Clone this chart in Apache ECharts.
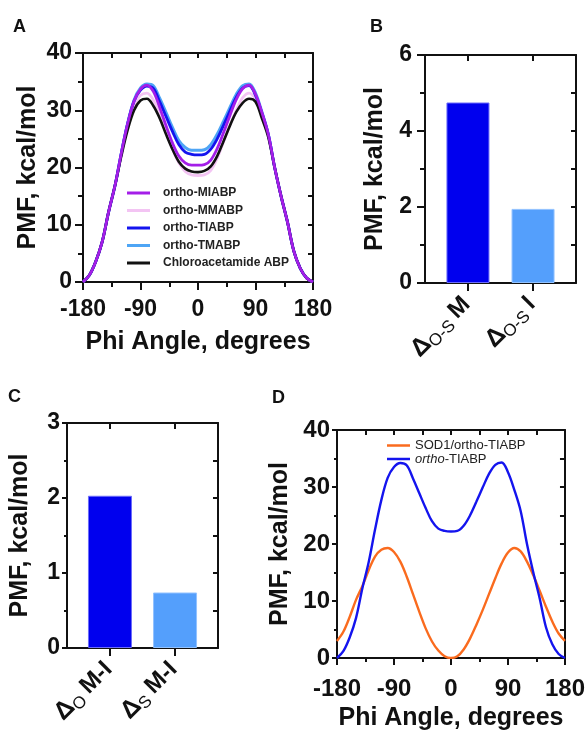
<!DOCTYPE html>
<html>
<head>
<meta charset="utf-8">
<script src="https://cdn.jsdelivr.net/npm/echarts@6/dist/echarts.min.js"></script>
<style>
  html, body { margin: 0; padding: 0; background: #ffffff; }
  #chart { width: 588px; height: 735px; }
</style>
</head>
<body>
<div id="chart"></div>
<script>
// Dihedral scan angle (degrees)
const phi = [-180, -170, -160, -150, -140, -130, -120, -110, -100, -90, -80, -70, -60, -50, -40, -30, -20, -10,
  0, 10, 20, 30, 40, 50, 60, 70, 80, 90, 100, 110, 120, 130, 140, 150, 160, 170, 180];

// PMF profiles, kcal/mol
const pmfMIABP = [0, 1.2, 3.6, 7.0, 12.2, 16.8, 22.5, 27.7, 31.6, 33.7, 34.4, 33.3, 30.5, 27.3, 24.3, 22.0, 20.8, 20.4,
  20.4, 20.5, 21.3, 23.3, 26.1, 29.1, 31.9, 33.8, 34.4, 32.8, 29.6, 25.8, 20.0, 15.0, 10.5, 5.4, 2.4, 0.7, 0];
const pmfMMABP = [0, 1.2, 3.6, 7.0, 12.2, 16.8, 22.3, 27.2, 30.8, 32.6, 33.0, 31.8, 29.2, 26.2, 23.2, 20.8, 19.3, 18.7,
  18.6, 18.7, 19.5, 21.6, 24.5, 27.4, 30.0, 32.2, 33.0, 31.9, 29.0, 25.6, 20.0, 15.0, 10.5, 5.4, 2.4, 0.7, 0];
const pmfTIABP = [0, 1.2, 3.6, 7.0, 12.2, 16.8, 22.5, 27.7, 31.6, 33.5, 34.2, 33.8, 31.5, 28.9, 26.3, 24.0, 22.7, 22.3,
  22.2, 22.3, 23.2, 25.0, 27.4, 29.9, 32.3, 33.9, 34.3, 32.6, 29.5, 25.8, 20.0, 15.0, 10.5, 5.4, 2.4, 0.7, 0];
const pmfTMABP = [0, 1.2, 3.6, 7.0, 12.2, 16.8, 22.5, 27.8, 31.8, 33.9, 34.6, 34.3, 32.1, 29.6, 27.0, 24.7, 23.5, 23.0,
  23.0, 23.1, 24.0, 25.8, 28.1, 30.5, 32.8, 34.3, 34.6, 33.0, 29.7, 25.8, 20.0, 15.0, 10.5, 5.4, 2.4, 0.7, 0];
const pmfChloro = [0, 1.2, 3.6, 7.0, 12.2, 16.8, 22.0, 26.6, 30.0, 31.7, 32.0, 30.8, 28.6, 25.8, 23.2, 21.0, 19.8, 19.3,
  19.2, 19.4, 20.2, 22.0, 24.6, 27.3, 29.7, 31.3, 32.0, 31.5, 28.6, 25.3, 20.0, 15.0, 10.5, 5.4, 2.4, 0.7, 0];
const pmfSOD1 = [3.0, 4.6, 7.2, 10.2, 12.6, 15.4, 17.8, 19.0, 19.3, 18.6, 16.9, 14.3, 11.2, 8.1, 5.2, 2.9, 1.3, 0.3,
  0, 0.3, 1.5, 3.4, 5.8, 8.4, 11.2, 14.0, 16.6, 18.5, 19.3, 18.7, 16.9, 14.5, 11.8, 9.0, 6.4, 4.3, 3.0];

// Series names
const nameMI = 'ortho-MIABP';
const nameMM = 'ortho-MMABP';
const nameTI = 'ortho-TIABP';
const nameTM = 'ortho-TMABP';
const nameCA = 'Chloroacetamide ABP';
const nameSOD = 'SOD1/ortho-TIABP';

// Bar panels: energy differences, kcal/mol
const subB = ['O-S', 'O-S'];
const mainB = ['M', 'I'];
const valuesB = [4.75, 1.95];
const subC = ['O', 'S'];
const mainC = ['M-I', 'M-I'];
const valuesC = [2.03, 0.74];

const FONT = "'Liberation Sans', Arial, Helvetica, sans-serif";
const INK = '#111111';
const colors = {
  MI: '#a41ee8', MM: '#f3c4f3', TI: '#1414ee', TM: '#4ea5f5', CA: '#111111', SOD: '#fa6b1e',
  barDark: '#0000ee', barLight: '#549ffc', edgeDark: '#6c6cfa', edgeLight: '#92c2ff'
};

const grids = [
  { left: 83, top: 53, width: 230, height: 229 },   // A
  { left: 425, top: 55, width: 151, height: 228 },  // B
  { left: 67, top: 423, width: 151, height: 225 },  // C
  { left: 337, top: 430, width: 230, height: 228 }  // D
];

const line2 = { onZero: false, lineStyle: { color: INK, width: 2 } };

function pairs(xs, ys) { return xs.map((x, i) => [x, ys[i]]); }

// Angle axes (bottom with labels, top as frame)
function angleAxes(g, labelSize, tickLen, labelMargin) {
  return [
    {
      gridIndex: g, type: 'value', position: 'bottom', min: -180, max: 180, interval: 90,
      axisLine: line2, splitLine: { show: false },
      axisTick: { show: true, length: tickLen, lineStyle: { color: INK, width: 2 } },
      minorTick: { show: true, splitNumber: 2, length: Math.round(tickLen * 0.6), lineStyle: { color: INK, width: 2 } },
      axisLabel: { fontSize: labelSize, fontWeight: 'bold', fontFamily: FONT, color: INK, margin: labelMargin },
      name: 'Phi Angle, degrees', nameLocation: 'middle', nameGap: 48,
      nameTextStyle: { fontSize: 25, fontWeight: 'bold', fontFamily: FONT, color: INK }
    },
    {
      gridIndex: g, type: 'value', position: 'top', min: -180, max: 180, interval: 45,
      axisLine: line2, splitLine: { show: false },
      axisTick: { show: true, inside: true, length: 5, lineStyle: { color: INK, width: 2 } },
      axisLabel: { show: false }
    }
  ];
}

function pmfAxes(g, max, step, labelSize, tickLen, labelMargin, nameGap) {
  return [
    {
      gridIndex: g, type: 'value', position: 'left', min: 0, max: max, interval: step,
      axisLine: line2, splitLine: { show: false },
      axisTick: { show: true, length: tickLen, lineStyle: { color: INK, width: 2 } },
      minorTick: { show: true, splitNumber: 2, length: Math.round(tickLen * 0.6), lineStyle: { color: INK, width: 2 } },
      axisLabel: { fontSize: labelSize, fontWeight: 'bold', fontFamily: FONT, color: INK, margin: labelMargin },
      name: 'PMF, kcal/mol', nameLocation: 'middle', nameGap: nameGap,
      nameTextStyle: { fontSize: 25, fontWeight: 'bold', fontFamily: FONT, color: INK }
    },
    {
      gridIndex: g, type: 'value', position: 'right', min: 0, max: max, interval: step / 2,
      axisLine: line2, splitLine: { show: false },
      axisTick: { show: true, inside: true, length: 5, lineStyle: { color: INK, width: 2 } },
      axisLabel: { show: false }
    }
  ];
}

const labelRich = {
  d: { fontSize: 25, fontWeight: 'bold', fontFamily: FONT, color: INK, lineHeight: 28, verticalAlign: 'top' },
  s: { fontSize: 17, fontFamily: FONT, color: INK, lineHeight: 20, padding: [10, 0, 0, 0], verticalAlign: 'top' },
  b: { fontSize: 24, fontWeight: 'bold', fontFamily: FONT, color: INK, lineHeight: 28, verticalAlign: 'top' }
};

// Two-bar panels on a padded value axis so the bars sit inside the frame like category slots
function barXAxes(g, subs, mains, margin) {
  const slots = subs.map((_, i) => i);
  return [
    {
      gridIndex: g, type: 'value', position: 'bottom', min: -0.66, max: 1.66,
      axisLine: line2, splitLine: { show: false },
      axisTick: { show: true, length: 8, customValues: slots, lineStyle: { color: INK, width: 2 } },
      axisLabel: {
        customValues: slots, rotate: 45, margin: margin, fontSize: 20, fontFamily: FONT, color: INK,
        formatter: (v) => {
          const i = Math.round(v);
          return '{d|Δ}{s|' + subs[i] + '} {b|' + mains[i] + '}';
        },
        rich: labelRich
      }
    },
    {
      gridIndex: g, type: 'value', position: 'top', min: -0.66, max: 1.66,
      axisLine: line2, splitLine: { show: false },
      axisTick: { show: true, inside: true, length: 6, customValues: slots, lineStyle: { color: INK, width: 2 } },
      axisLabel: { show: false }
    }
  ];
}

function barData(values) {
  const fills = [colors.barDark, colors.barLight];
  const edges = [colors.edgeDark, colors.edgeLight];
  return values.map((v, i) => ({
    value: [i, v],
    itemStyle: { color: fills[i], borderColor: edges[i], borderWidth: 1 }
  }));
}

function curve(name, ys, color, xi, yi, width) {
  return {
    name: name, type: 'line', xAxisIndex: xi, yAxisIndex: yi,
    data: pairs(phi, ys), showSymbol: false, smooth: 0.35, color: color,
    lineStyle: { color: color, width: width }, itemStyle: { color: color }
  };
}

const xAxis = [].concat(
  angleAxes(0, 23, 8, 16),
  barXAxes(1, subB, mainB, 19),
  barXAxes(2, subC, mainC, 19),
  angleAxes(3, 24, 7, 19)
);
const yAxis = [].concat(
  pmfAxes(0, 40, 10, 23, 8, 11, 42),
  pmfAxes(1, 6, 2, 23, 8, 13, 37),
  pmfAxes(2, 3, 1, 23, 5, 7, 34),
  pmfAxes(3, 40, 10, 24, 5, 7, 44)
);

const letterStyle = { fontSize: 18, fontWeight: 'bold', fontFamily: FONT, color: INK };

const option = {
  backgroundColor: '#ffffff',
  animation: false,
  title: [
    { text: 'A', left: 13, top: 18, padding: 0, textStyle: letterStyle },
    { text: 'B', left: 370, top: 18, padding: 0, textStyle: letterStyle },
    { text: 'C', left: 8, top: 388, padding: 0, textStyle: letterStyle },
    { text: 'D', left: 272, top: 389, padding: 0, textStyle: letterStyle }
  ],
  legend: [
    {
      data: [nameMI, nameMM, nameTI, nameTM, nameCA],
      orient: 'vertical', left: 127, top: 186, padding: 0,
      itemWidth: 23, itemHeight: 3, itemGap: 3.5, icon: 'rect',
      textStyle: { fontSize: 12, fontWeight: 'bold', fontFamily: FONT, color: '#222222', lineHeight: 14, padding: [0, 0, 0, 8] }
    },
    {
      data: [nameSOD, nameTI],
      orient: 'vertical', left: 387, top: 439, padding: 0,
      itemWidth: 23, itemHeight: 2.5, itemGap: 0.5, icon: 'rect',
      formatter: (n) => n === nameTI ? '{i|ortho}-TIABP' : n,
      textStyle: {
        fontSize: 13, fontFamily: FONT, color: '#222222', lineHeight: 13,
        rich: { i: { fontSize: 13, fontStyle: 'italic', fontFamily: FONT, color: '#222222' } }
      }
    }
  ],
  grid: grids.map((g) => Object.assign({ containLabel: false }, g)),
  xAxis: xAxis,
  yAxis: yAxis,
  series: [
    // Panel A
    curve(nameMM, pmfMMABP, colors.MM, 0, 0, 2.8),
    curve(nameTM, pmfTMABP, colors.TM, 0, 0, 3),
    curve(nameTI, pmfTIABP, colors.TI, 0, 0, 2.8),
    curve(nameCA, pmfChloro, colors.CA, 0, 0, 2.6),
    curve(nameMI, pmfMIABP, colors.MI, 0, 0, 2.8),
    // Panel B
    { type: 'bar', xAxisIndex: 2, yAxisIndex: 2, barWidth: 43, data: barData(valuesB) },
    // Panel C
    { type: 'bar', xAxisIndex: 4, yAxisIndex: 4, barWidth: 44, data: barData(valuesC) },
    // Panel D
    curve(nameSOD, pmfSOD1, colors.SOD, 6, 6, 2.4),
    curve(nameTI, pmfTIABP, colors.TI, 6, 6, 2.4)
  ]
};

const chart = echarts.init(document.getElementById('chart'), null, { renderer: 'canvas' });
chart.setOption(option);
</script>
</body>
</html>
